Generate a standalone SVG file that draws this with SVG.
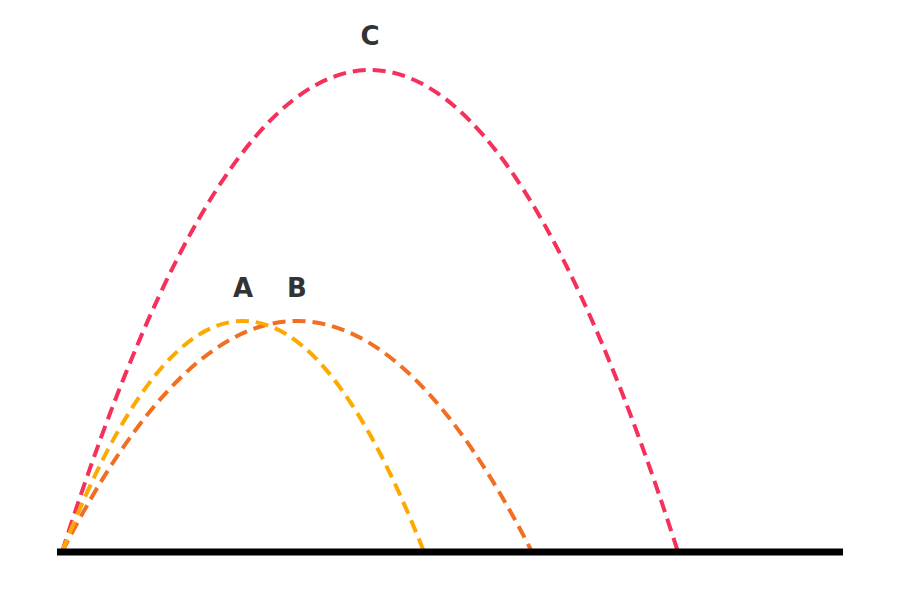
<svg xmlns="http://www.w3.org/2000/svg" width="900" height="600" viewBox="0 0 900 600">
<style>
.traj{fill:none;stroke-width:4;stroke-dasharray:13 7}
.lbl{font-family:"DejaVu Sans",sans-serif;font-weight:bold;font-size:26px;fill:#333;text-anchor:middle}
</style>
<rect width="900" height="600" fill="#fff"/>
<g id="connectors">
<path id="C-path" class="traj" stroke="#f5305a" d="M62,552 Q370,-412 678,552"/>
<path id="B-path" class="traj" stroke="#f26e22" d="M62,552 Q297,90 532,552"/>
<path id="A-path" class="traj" stroke="#fdaa00" d="M62,552 Q243,90 424,552"/>
</g>
<g id="ground"><line x1="57" y1="552" x2="843" y2="552" stroke="#000" stroke-width="7"/></g>
<g id="A"><text class="lbl" x="243" y="297">A</text></g>
<g id="B"><text class="lbl" x="297" y="297">B</text></g>
<g id="C"><text class="lbl" x="370" y="45">C</text></g>
</svg>
